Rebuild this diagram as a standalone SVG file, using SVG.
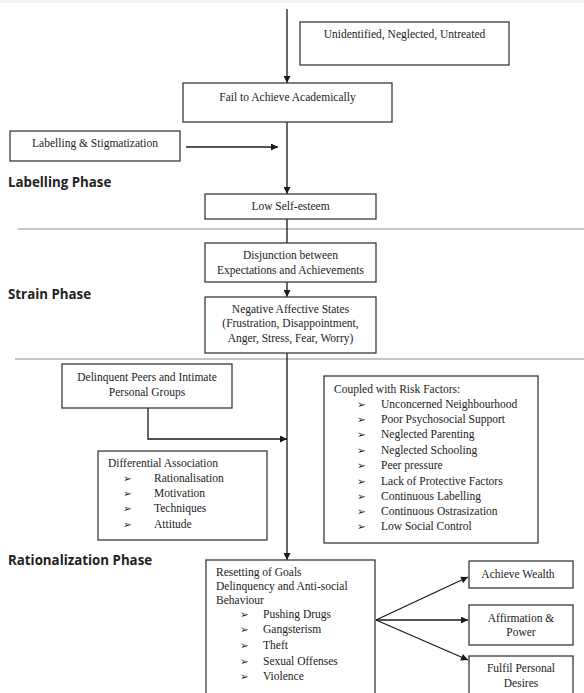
<svg xmlns="http://www.w3.org/2000/svg" width="584" height="693" viewBox="0 0 584 693">
<defs>
<style>
.box{fill:#fff;stroke:#3a3a3a;stroke-width:1.3}
.t{font-family:"Liberation Serif","Times New Roman",serif;font-size:11.5px;fill:#222}
.c{text-anchor:middle}
.b{font-family:"DejaVu Sans",sans-serif;font-size:10.5px;fill:#222}
.ph{font-family:"Open Sans","Liberation Sans",sans-serif;font-weight:bold;font-size:13.3px;fill:#222}
.sep{stroke:#8a8a8a;stroke-width:1;fill:none}
.ln{stroke:#1a1a1a;stroke-width:1.3;fill:none}
</style>
<marker id="ah" viewBox="0 0 10 10" refX="10" refY="5" markerWidth="8" markerHeight="7" markerUnits="userSpaceOnUse" orient="auto">
<path d="M0,0 L10,5 L0,10 z" fill="#1a1a1a"/>
</marker>
</defs>
<rect x="0" y="0" width="584" height="693" fill="#fff"/>
<rect x="0" y="0" width="584" height="3" fill="#f4f4f2"/>

<g id="phases">
<line class="sep" x1="18" y1="229" x2="584" y2="229"/>
<line class="sep" x1="15" y1="359" x2="584" y2="359"/>
<text class="ph" x="8" y="187">Labelling Phase</text>
<text class="ph" x="8" y="299">Strain Phase</text>
<text class="ph" x="8" y="565">Rationalization Phase</text>
</g>

<g id="connectors">
<line class="ln" x1="287" y1="9" x2="287" y2="83" marker-end="url(#ah)"/>
<line class="ln" x1="287" y1="122" x2="287" y2="194" marker-end="url(#ah)"/>
<line class="ln" x1="186" y1="147" x2="278" y2="147" marker-end="url(#ah)"/>
<line class="ln" x1="287" y1="219" x2="287" y2="243"/>
<line class="ln" x1="287" y1="282" x2="287" y2="297" marker-end="url(#ah)"/>
<line class="ln" x1="287" y1="353" x2="287" y2="560" marker-end="url(#ah)"/>
<polyline class="ln" points="148,408 148,439 287,439" marker-end="url(#ah)"/>
<line class="ln" x1="376" y1="620" x2="468" y2="577" marker-end="url(#ah)"/>
<line class="ln" x1="376" y1="620" x2="468" y2="620" marker-end="url(#ah)"/>
<line class="ln" x1="376" y1="620" x2="468" y2="660" marker-end="url(#ah)"/>
</g>

<g id="unidentified">
<rect class="box" x="300" y="22" width="209" height="43"/>
<text class="t c" x="404.5" y="38">Unidentified, Neglected, Untreated</text>
</g>

<g id="fail">
<rect class="box" x="183" y="83" width="209" height="39"/>
<text class="t c" x="287.5" y="101">Fail to Achieve Academically</text>
</g>

<g id="labelling">
<rect class="box" x="10" y="131" width="170" height="30"/>
<text class="t c" x="95" y="147">Labelling &amp; Stigmatization</text>
</g>

<g id="lowselfesteem">
<rect class="box" x="205" y="194" width="171" height="25"/>
<text class="t c" x="290.5" y="210">Low Self-esteem</text>
</g>

<g id="disjunction">
<rect class="box" x="205" y="243" width="171" height="39"/>
<text class="t c" x="290.5" y="259">Disjunction between</text>
<text class="t c" x="290.5" y="274">Expectations and Achievements</text>
</g>

<g id="negative">
<rect class="box" x="205" y="297" width="171" height="56"/>
<text class="t c" x="290.5" y="313">Negative Affective States</text>
<text class="t c" x="290.5" y="327">(Frustration, Disappointment,</text>
<text class="t c" x="290.5" y="342">Anger, Stress, Fear, Worry)</text>
</g>

<g id="delinquent">
<rect class="box" x="62" y="364" width="170" height="44"/>
<text class="t c" x="147" y="381">Delinquent Peers and Intimate</text>
<text class="t c" x="147" y="396">Personal Groups</text>
</g>

<g id="differential">
<rect class="box" x="98" y="451" width="169" height="89"/>
<text class="t" x="108" y="467">Differential Association</text>
<text class="b" x="123" y="482">➢</text><text class="t" x="154" y="482">Rationalisation</text>
<text class="b" x="123" y="497">➢</text><text class="t" x="154" y="497">Motivation</text>
<text class="b" x="123" y="512">➢</text><text class="t" x="154" y="512">Techniques</text>
<text class="b" x="123" y="528">➢</text><text class="t" x="154" y="528">Attitude</text>
</g>

<g id="riskfactors">
<rect class="box" x="324" y="376" width="214" height="167"/>
<text class="t" x="334" y="393">Coupled with Risk Factors:</text>
<text class="b" x="357" y="408">➢</text><text class="t" x="381" y="408">Unconcerned Neighbourhood</text>
<text class="b" x="357" y="423">➢</text><text class="t" x="381" y="423">Poor Psychosocial Support</text>
<text class="b" x="357" y="438">➢</text><text class="t" x="381" y="438">Neglected Parenting</text>
<text class="b" x="357" y="454">➢</text><text class="t" x="381" y="454">Neglected Schooling</text>
<text class="b" x="357" y="469">➢</text><text class="t" x="381" y="469">Peer pressure</text>
<text class="b" x="357" y="485">➢</text><text class="t" x="381" y="485">Lack of Protective Factors</text>
<text class="b" x="357" y="500">➢</text><text class="t" x="381" y="500">Continuous Labelling</text>
<text class="b" x="357" y="515">➢</text><text class="t" x="381" y="515">Continuous Ostrasization</text>
<text class="b" x="357" y="530">➢</text><text class="t" x="381" y="530">Low Social Control</text>
</g>

<g id="resetting">
<rect class="box" x="206" y="560" width="169" height="140"/>
<text class="t" x="216" y="576">Resetting of Goals</text>
<text class="t" x="216" y="590">Delinquency and Anti-social</text>
<text class="t" x="216" y="604">Behaviour</text>
<text class="b" x="240" y="618">➢</text><text class="t" x="263" y="618">Pushing Drugs</text>
<text class="b" x="240" y="633">➢</text><text class="t" x="263" y="633">Gangsterism</text>
<text class="b" x="240" y="649">➢</text><text class="t" x="263" y="649">Theft</text>
<text class="b" x="240" y="665">➢</text><text class="t" x="263" y="665">Sexual Offenses</text>
<text class="b" x="240" y="680">➢</text><text class="t" x="263" y="680">Violence</text>
</g>

<g id="wealth">
<rect class="box" x="469" y="561" width="104" height="27"/>
<text class="t c" x="518" y="578">Achieve Wealth</text>
</g>

<g id="affirmation">
<rect class="box" x="469" y="605" width="104" height="40"/>
<text class="t c" x="521" y="622">Affirmation &amp;</text>
<text class="t c" x="521" y="636">Power</text>
</g>

<g id="fulfil">
<rect class="box" x="469" y="656" width="104" height="44"/>
<text class="t c" x="521" y="672">Fulfil Personal</text>
<text class="t c" x="521" y="687">Desires</text>
</g>
</svg>
